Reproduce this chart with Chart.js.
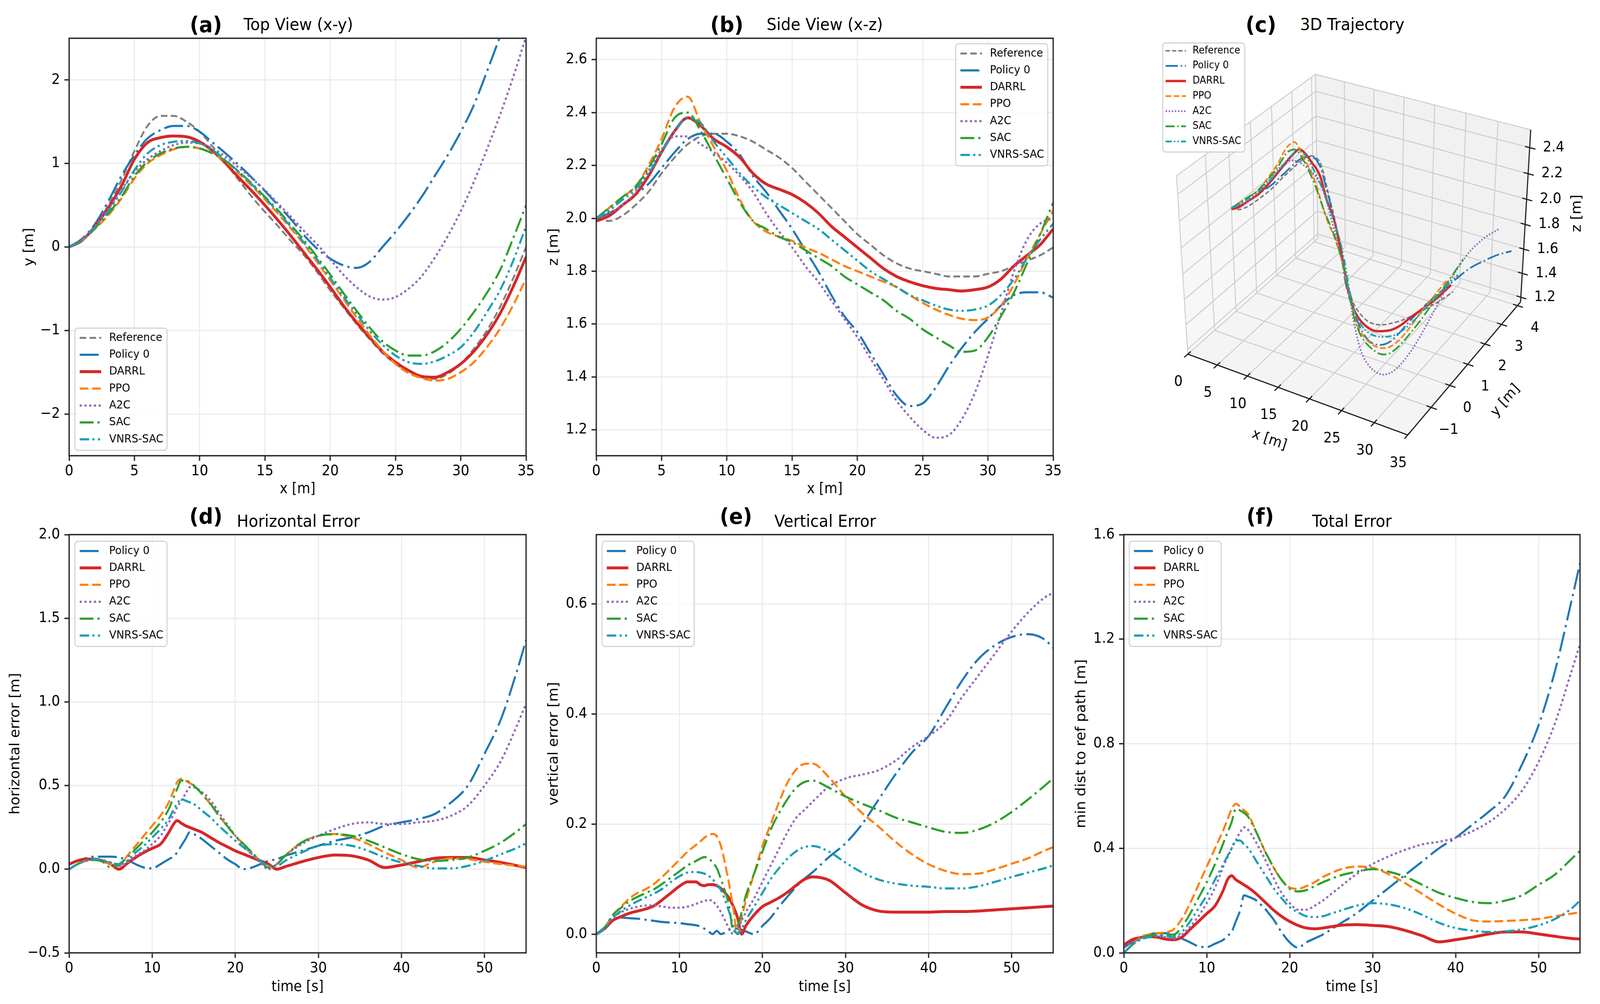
<!DOCTYPE html>
<html>
<head>
<meta charset="utf-8">
<script src="https://cdn.jsdelivr.net/npm/chart.js@4.4.1/dist/chart.umd.min.js"></script>
<style>
  html, body { margin: 0; padding: 0; background: #fff; overflow: hidden; }
  #page { position: relative; width: 4398px; height: 2571px; overflow: hidden; background: #fff; transform-origin: 0 0; }
  canvas { position: absolute; }
  .tag { position: absolute; font: bold 56px "DejaVu Sans"; transform: translate(-50%, -50%); white-space: nowrap; color: #000; }
  .ttl { position: absolute; font: 43px "DejaVu Sans"; transform: translate(-50%, -50%); white-space: nowrap; color: #000; }
</style>
</head>
<body>
<div id="page">
  <canvas id="chartA"></canvas>
  <canvas id="chartB"></canvas>
  <canvas id="chartC"></canvas>
  <canvas id="chartD"></canvas>
  <canvas id="chartE"></canvas>
  <canvas id="chartF"></canvas>

  <div class="tag" style="left:566px;top:62px">(a)</div>
  <div class="ttl" style="left:820px;top:62px">Top View (x-y)</div>
  <div class="tag" style="left:1998px;top:62px">(b)</div>
  <div class="ttl" style="left:2267px;top:62px">Side View (x-z)</div>
  <div class="tag" style="left:3466px;top:62px">(c)</div>
  <div class="ttl" style="left:3717px;top:62px">3D Trajectory</div>
  <div class="tag" style="left:566px;top:1321px">(d)</div>
  <div class="ttl" style="left:820px;top:1334px">Horizontal Error</div>
  <div class="tag" style="left:2023px;top:1321px">(e)</div>
  <div class="ttl" style="left:2268px;top:1334px">Vertical Error</div>
  <div class="tag" style="left:3464px;top:1321px">(f)</div>
  <div class="ttl" style="left:3716px;top:1334px">Total Error</div>
</div>
<script>
// ---- trajectory data: position along x [m] ----
const posX = [0,1,2,3,4,5,6,7,8,9,10,11,12,13,14,15,16,17,18,19,20,21,22,23,24,25,26,27,28,29,30,31,32,33,34,35];

// lateral position y [m]
const yRef     = [0,0.08,0.25,0.5,0.8,1.15,1.45,1.57,1.57,1.5, 1.38,1.2,1.0,0.8,0.6,0.42,0.25,0.07,-0.1,-0.3, -0.52,-0.72,-0.92,-1.1,-1.27,-1.4,-1.5,-1.56,-1.58,-1.52, -1.4,-1.22,-1.0,-0.72,-0.38,0.0];
const yPolicy0 = [0,0.1,0.28,0.55,0.85,1.1,1.3,1.4,1.45,1.45, 1.38,1.25,1.12,0.98,0.83,0.67,0.5,0.33,0.14,-0.02, -0.14,-0.22,-0.25,-0.18,0.0,0.18,0.38,0.6,0.85,1.1, 1.38,1.7,2.1,2.52,2.95,3.4];
const yDarrl   = [0,0.08,0.25,0.47,0.73,1.05,1.25,1.31,1.33,1.32, 1.26,1.15,1.0,0.83,0.67,0.5,0.32,0.13,-0.07,-0.27, -0.48,-0.7,-0.9,-1.08,-1.25,-1.38,-1.48,-1.55,-1.56,-1.5, -1.4,-1.25,-1.05,-0.8,-0.48,-0.12];
const yPpo     = [0,0.08,0.22,0.38,0.58,0.82,1.0,1.1,1.17,1.2, 1.18,1.12,1.02,0.88,0.73,0.57,0.4,0.22,0.03,-0.18, -0.4,-0.62,-0.84,-1.05,-1.24,-1.4,-1.51,-1.57,-1.6,-1.58, -1.5,-1.38,-1.2,-0.98,-0.7,-0.38];
const yA2c     = [0,0.09,0.25,0.45,0.68,0.9,1.05,1.15,1.22,1.25, 1.24,1.18,1.08,0.95,0.82,0.68,0.52,0.36,0.19,0.03, -0.15,-0.33,-0.48,-0.59,-0.63,-0.6,-0.5,-0.35,-0.13,0.13, 0.43,0.78,1.17,1.58,2.03,2.52];
const ySac     = [0,0.08,0.23,0.4,0.6,0.85,1.02,1.12,1.18,1.2, 1.18,1.12,1.03,0.9,0.76,0.6,0.44,0.26,0.08,-0.12, -0.33,-0.55,-0.76,-0.96,-1.13,-1.24,-1.3,-1.3,-1.25,-1.14, -0.98,-0.78,-0.55,-0.28,0.1,0.5];
const yVnrs    = [0,0.08,0.24,0.43,0.66,0.92,1.12,1.22,1.26,1.27, 1.24,1.16,1.04,0.9,0.75,0.59,0.42,0.24,0.05,-0.15, -0.37,-0.59,-0.8,-1.0,-1.17,-1.3,-1.38,-1.4,-1.37,-1.3, -1.2,-1.02,-0.78,-0.52,-0.17,0.25];

// height z [m]
const zRef     = [2.0,1.99,2.01,2.05,2.1,2.17,2.23,2.28,2.31,2.32, 2.32,2.31,2.29,2.26,2.23,2.19,2.14,2.09,2.04,1.99, 1.94,1.9,1.86,1.83,1.81,1.8,1.79,1.78,1.78,1.78, 1.79,1.8,1.82,1.84,1.86,1.89];
const zPolicy0 = [2.0,2.02,2.05,2.09,2.13,2.19,2.25,2.3,2.32,2.32, 2.29,2.24,2.16,2.1,2.03,1.96,1.88,1.8,1.71,1.63, 1.57,1.49,1.41,1.33,1.29,1.3,1.36,1.44,1.51,1.57, 1.62,1.67,1.71,1.72,1.72,1.7];
const zDarrl   = [1.99,2.01,2.05,2.09,2.16,2.25,2.33,2.38,2.35,2.3, 2.27,2.23,2.17,2.13,2.11,2.09,2.06,2.02,1.97,1.93, 1.89,1.85,1.81,1.78,1.76,1.745,1.735,1.73,1.725,1.73, 1.74,1.77,1.82,1.86,1.9,1.96];
const zPpo     = [2.0,2.04,2.08,2.12,2.2,2.3,2.42,2.46,2.36,2.27, 2.18,2.07,1.99,1.95,1.93,1.915,1.89,1.87,1.845,1.82, 1.8,1.78,1.76,1.74,1.71,1.68,1.655,1.635,1.62,1.615, 1.625,1.67,1.75,1.85,1.94,2.03];
const zA2c     = [2.0,2.02,2.05,2.1,2.18,2.26,2.31,2.31,2.28,2.25, 2.21,2.16,2.1,2.02,1.95,1.89,1.82,1.76,1.69,1.62, 1.55,1.47,1.39,1.31,1.25,1.2,1.17,1.18,1.24,1.34, 1.48,1.64,1.8,1.92,1.98,2.0];
const zSac     = [2.0,2.04,2.08,2.12,2.19,2.28,2.38,2.4,2.33,2.24, 2.15,2.06,1.99,1.96,1.93,1.91,1.88,1.85,1.82,1.78, 1.75,1.72,1.69,1.65,1.62,1.58,1.55,1.52,1.495,1.5, 1.55,1.63,1.72,1.83,1.94,2.06];
const zVnrs    = [2.0,2.03,2.07,2.11,2.17,2.25,2.33,2.38,2.36,2.29, 2.23,2.17,2.12,2.08,2.05,2.02,1.99,1.96,1.92,1.88, 1.84,1.8,1.77,1.74,1.71,1.69,1.67,1.655,1.65,1.655, 1.67,1.71,1.77,1.85,1.92,1.98];

// ---- tracking errors vs time [s] ----
const timeS = [0,1,2,3,4,5,6,7,8,9,10,11,12,12.5,13,13.5,14,14.5,15,16,16.5,17,17.5,18,19,20,21,22,23,24,25,26,28,30,32,34,36,38,40,42,44,46,48,50,52,54,55];

// horizontal error [m]
const hPolicy0 = [0.03,0.05,0.065,0.075,0.075,0.075,0.07,0.055,0.03,0.01,0.005,0.03,0.06, 0.075,0.1,0.14,0.18,0.22,0.21, 0.18,0.16,0.14,0.12,0.1, 0.06,0.03,0.0,0.01,0.03,0.05,0.06,0.08, 0.11,0.14,0.17,0.19,0.22,0.26,0.28,0.3,0.33,0.4,0.5,0.69,0.9,1.2, 1.37];
const hDarrl   = [0.03,0.05,0.06,0.06,0.05,0.03,0.0,0.035,0.07,0.1,0.125,0.15,0.22, 0.264,0.29,0.275,0.26,0.25,0.24, 0.22,0.205,0.19,0.175,0.16, 0.135,0.11,0.09,0.07,0.05,0.03,0.0,0.015, 0.045,0.07,0.085,0.08,0.055,0.01,0.025,0.045,0.065,0.07,0.07,0.055,0.04,0.02, 0.01];
const hPpo     = [0.0,0.03,0.05,0.06,0.05,0.03,0.02,0.08,0.14,0.2,0.26,0.32,0.4, 0.46,0.52,0.54,0.53,0.515,0.5, 0.45,0.42,0.39,0.355,0.32, 0.26,0.2,0.15,0.1,0.05,0.01,0.03,0.08, 0.16,0.2,0.21,0.19,0.15,0.1,0.055,0.01,0.045,0.065,0.06,0.045,0.03,0.02, 0.015];
const hA2c     = [0.0,0.03,0.05,0.055,0.05,0.04,0.02,0.04,0.08,0.11,0.15,0.2,0.28, 0.32,0.37,0.41,0.45,0.49,0.49, 0.46,0.44,0.41,0.38,0.34, 0.27,0.2,0.14,0.09,0.04,0.0,0.03,0.08, 0.15,0.2,0.24,0.27,0.28,0.27,0.27,0.28,0.29,0.32,0.38,0.5,0.65,0.87, 0.99];
const hSac     = [0.0,0.03,0.05,0.055,0.045,0.01,0.03,0.07,0.12,0.17,0.22,0.28,0.36, 0.42,0.48,0.53,0.53,0.52,0.5, 0.45,0.42,0.39,0.36,0.32, 0.26,0.2,0.15,0.1,0.05,0.01,0.03,0.08, 0.16,0.2,0.21,0.2,0.17,0.13,0.09,0.06,0.05,0.055,0.07,0.11,0.16,0.23, 0.27];
const hVnrs    = [0.0,0.03,0.05,0.06,0.055,0.04,0.03,0.05,0.1,0.14,0.19,0.24,0.3, 0.35,0.39,0.42,0.41,0.4,0.39, 0.35,0.33,0.31,0.285,0.26, 0.215,0.17,0.13,0.09,0.05,0.02,0.02,0.05, 0.1,0.14,0.15,0.14,0.11,0.07,0.04,0.02,0.005,0.005,0.02,0.05,0.09,0.13, 0.155];

// vertical error [m]
const vPolicy0 = [0.0,0.012,0.025,0.03,0.029,0.028,0.026,0.024,0.022,0.021,0.02,0.018,0.016, 0.014,0.01,0.005,0.0,0.006,0.0, 0.008,0.01,0.01,0.008,0.005, 0.0,0.015,0.03,0.05,0.068,0.085,0.1,0.112, 0.14,0.165,0.2,0.245,0.29,0.33,0.36,0.41,0.46,0.5,0.525,0.54,0.545,0.535, 0.52];
const vDarrl   = [0.0,0.01,0.025,0.032,0.038,0.042,0.046,0.052,0.063,0.075,0.087,0.095,0.095, 0.09,0.088,0.09,0.09,0.088,0.083, 0.065,0.05,0.03,0.0,0.015, 0.035,0.05,0.058,0.066,0.076,0.088,0.099,0.104, 0.098,0.075,0.053,0.042,0.04,0.04,0.04,0.041,0.041,0.042,0.044,0.046,0.048,0.05, 0.051];
const vPpo     = [0.0,0.012,0.035,0.05,0.065,0.075,0.082,0.092,0.105,0.12,0.135,0.15,0.162, 0.168,0.175,0.18,0.182,0.178,0.16, 0.09,0.045,0.0,0.03,0.06, 0.11,0.16,0.2,0.24,0.275,0.298,0.309,0.31, 0.285,0.25,0.22,0.195,0.168,0.145,0.127,0.115,0.109,0.11,0.118,0.128,0.138,0.152, 0.158];
const vA2c     = [0.0,0.012,0.03,0.04,0.046,0.05,0.052,0.052,0.05,0.048,0.048,0.05,0.055, 0.058,0.06,0.062,0.06,0.052,0.04, 0.01,0.0,0.01,0.025,0.04, 0.065,0.095,0.125,0.155,0.185,0.21,0.225,0.24, 0.268,0.283,0.29,0.298,0.315,0.34,0.36,0.385,0.43,0.47,0.51,0.55,0.585,0.612, 0.62];
const vSac     = [0.0,0.012,0.035,0.048,0.06,0.068,0.075,0.082,0.092,0.103,0.114,0.125,0.133, 0.137,0.14,0.138,0.13,0.12,0.1, 0.05,0.005,0.015,0.04,0.07, 0.11,0.15,0.19,0.22,0.245,0.265,0.276,0.279, 0.266,0.25,0.237,0.225,0.212,0.203,0.194,0.186,0.184,0.19,0.203,0.222,0.245,0.27, 0.283];
const vVnrs    = [0.0,0.01,0.03,0.042,0.052,0.06,0.067,0.074,0.083,0.095,0.105,0.112,0.113, 0.112,0.11,0.106,0.1,0.09,0.08, 0.04,0.015,0.0,0.01,0.025, 0.05,0.075,0.1,0.12,0.137,0.15,0.158,0.16, 0.15,0.13,0.112,0.099,0.092,0.088,0.086,0.083,0.083,0.087,0.095,0.104,0.112,0.12, 0.125];

// min distance to reference path [m]
const tPolicy0 = [0.02,0.04,0.06,0.07,0.075,0.075,0.068,0.055,0.04,0.025,0.022,0.035,0.05, 0.065,0.08,0.12,0.16,0.22,0.215, 0.2,0.185,0.17,0.15,0.13, 0.08,0.04,0.02,0.04,0.055,0.07,0.09,0.11, 0.15,0.2,0.25,0.3,0.35,0.4,0.44,0.49,0.54,0.6,0.72,0.87,1.08,1.35, 1.49];
const tDarrl   = [0.03,0.05,0.058,0.062,0.06,0.053,0.05,0.06,0.09,0.12,0.15,0.18,0.24, 0.28,0.295,0.28,0.27,0.26,0.25, 0.225,0.21,0.195,0.18,0.165, 0.14,0.12,0.105,0.095,0.092,0.095,0.1,0.105, 0.108,0.105,0.1,0.085,0.065,0.042,0.05,0.06,0.072,0.08,0.08,0.072,0.063,0.055, 0.053];
const tPpo     = [0.0,0.03,0.06,0.07,0.075,0.078,0.09,0.13,0.19,0.26,0.33,0.4,0.47, 0.51,0.55,0.57,0.56,0.545,0.53, 0.46,0.425,0.39,0.36,0.33, 0.28,0.25,0.245,0.255,0.27,0.29,0.305,0.318, 0.33,0.325,0.3,0.265,0.225,0.185,0.15,0.125,0.12,0.122,0.125,0.13,0.14,0.15, 0.155];
const tA2c     = [0.02,0.04,0.055,0.065,0.065,0.06,0.055,0.07,0.1,0.14,0.19,0.25,0.33, 0.365,0.4,0.43,0.46,0.48,0.47, 0.42,0.39,0.36,0.325,0.29, 0.23,0.19,0.165,0.165,0.18,0.2,0.225,0.25, 0.3,0.34,0.37,0.395,0.415,0.425,0.44,0.465,0.5,0.55,0.62,0.73,0.88,1.08, 1.18];
const tSac     = [0.0,0.03,0.055,0.065,0.07,0.07,0.07,0.1,0.15,0.21,0.27,0.34,0.42, 0.46,0.5,0.55,0.545,0.535,0.52, 0.46,0.425,0.39,0.36,0.33, 0.28,0.245,0.235,0.24,0.255,0.27,0.283,0.295, 0.31,0.32,0.31,0.29,0.26,0.23,0.21,0.195,0.19,0.2,0.22,0.26,0.3,0.36, 0.39];
const tVnrs    = [0.0,0.03,0.05,0.06,0.065,0.065,0.06,0.08,0.12,0.17,0.22,0.28,0.34, 0.37,0.4,0.43,0.43,0.415,0.4, 0.35,0.325,0.3,0.275,0.25, 0.21,0.175,0.155,0.14,0.137,0.14,0.15,0.16, 0.18,0.19,0.185,0.17,0.145,0.115,0.095,0.085,0.08,0.082,0.09,0.105,0.13,0.17, 0.2];

// ---- tick labels ----
const ticksPosX  = [0,5,10,15,20,25,30,35];
const ticksPosY  = [-2,-1,0,1,2];
const ticksPosZ  = [1.2,1.4,1.6,1.8,2.0,2.2,2.4,2.6];
const ticksTime  = [0,10,20,30,40,50];
const ticksHErr  = [-0.5,0.0,0.5,1.0,1.5,2.0];
const ticksVErr  = [0.0,0.2,0.4,0.6];
const ticksTErr  = [0.0,0.4,0.8,1.2,1.6];
const ticks3dX   = [0,5,10,15,20,25,30,35];
const ticks3dY   = [-1,0,1,2,3,4];
const ticks3dZ   = [1.2,1.4,1.6,1.8,2.0,2.2,2.4];

// ---- styling ----
const FONT = '"DejaVu Sans", sans-serif';
Chart.defaults.font.family = FONT;

const seriesStyle = {
    'Reference': { color: '#7f7f7f', dash: [18, 9], width: 5 },
    'Policy 0':  { color: '#1f77b4', dash: [52, 12, 6, 12], width: 5.5 },
    'DARRL':     { color: '#d62728', dash: [], width: 7.5 },
    'PPO':       { color: '#ff7f0e', dash: [24, 10], width: 5.5 },
    'A2C':       { color: '#9467bd', dash: [6, 7], width: 5.5 },
    'SAC':       { color: '#2ca02c', dash: [38, 11, 6, 11], width: 5.5 },
    'VNRS-SAC':  { color: '#1a9eb3', dash: [26, 9, 6, 9, 6, 9], width: 5.5 }
};

function fmtTick(v, decimals) {
    return Number(v).toFixed(decimals).replace('-', '\u2212');
}

// k scales the dash pattern, kw the line width
function lineSet(name, xs, ys, k, kw, idx) {
    const st = seriesStyle[name];
    return {
        label: name,
        data: xs.map((x, i) => ({ x: x, y: ys[i] })),
        borderColor: st.color,
        backgroundColor: st.color,
        borderWidth: st.width * kw,
        borderDash: st.dash.map(d => d * k),
        borderJoinStyle: 'round',
        pointRadius: 0,
        fill: false,
        order: 20 - idx
    };
}

// legend box drawn inside the plot, plus the plot frame
const legendBox = {
    id: 'legendBox',
    afterDatasetsDraw(chart, args, o) {
        const ctx = chart.ctx;
        const area = chart.chartArea;
        const sets = chart.data.datasets;
        ctx.save();
        if (o.frame) {
            ctx.setLineDash([]);
            ctx.lineWidth = 3.5;
            ctx.strokeStyle = '#262626';
            ctx.strokeRect(area.left, area.top, area.right - area.left, area.bottom - area.top);
        }
        ctx.font = o.fontSize + 'px ' + FONT;
        const textW = Math.max(...sets.map(s => ctx.measureText(s.label).width));
        const w = o.padLeft + o.sample + o.gap + textW + o.padRight;
        const h = o.padTop + o.row * (sets.length - 1) + o.padBottom;
        let x, y;
        if (o.at) {
            x = o.at[0]; y = o.at[1];
        } else {
            x = o.corner[1] === 'l' ? area.left + o.dx : area.right - o.dx - w;
            y = o.corner[0] === 't' ? area.top + o.dy : area.bottom - o.dy - h;
        }
        ctx.beginPath();
        ctx.roundRect(x, y, w, h, 8);
        ctx.fillStyle = 'rgba(255,255,255,0.8)';
        ctx.fill();
        ctx.lineWidth = 2.5;
        ctx.strokeStyle = '#cccccc';
        ctx.stroke();
        sets.forEach((s, i) => {
            const cy = y + o.padTop + i * o.row;
            ctx.beginPath();
            ctx.setLineDash(s.borderDash || []);
            ctx.lineCap = 'butt';
            ctx.lineWidth = s.borderWidth;
            ctx.strokeStyle = s.borderColor;
            ctx.moveTo(x + o.padLeft, cy);
            ctx.lineTo(x + o.padLeft + o.sample, cy);
            ctx.stroke();
            ctx.setLineDash([]);
            ctx.fillStyle = '#000';
            ctx.textAlign = 'left';
            ctx.textBaseline = 'middle';
            ctx.fillText(s.label, x + o.padLeft + o.sample + o.gap, cy);
        });
        ctx.restore();
    }
};

const legend2d = { fontSize: 29, padLeft: 13, sample: 59, gap: 22, padRight: 10, padTop: 25, row: 43.3, padBottom: 28 };

function axisOpts(which, a, size) {
    return {
        type: 'linear',
        min: a.min,
        max: a.max,
        afterBuildTicks: s => { s.ticks = a.ticks.map(v => ({ value: v })); },
        afterFit: s => { if (which === 'x') s.height = size; else s.width = size; },
        ticks: {
            autoSkip: false, maxRotation: 0, minRotation: 0,
            padding: which === 'x' ? 5 : 12,
            color: '#000',
            font: { family: FONT, size: 37 },
            callback: v => fmtTick(v, a.decimals)
        },
        grid: { color: '#ebebeb', lineWidth: 3, drawTicks: true, tickLength: 13, tickWidth: 3.5, tickColor: '#262626' },
        border: { display: false },
        title: { display: true, text: a.title, color: '#000', font: { family: FONT, size: 37 }, padding: a.pad }
    };
}

function placeCanvas(id, box) {
    const c = document.getElementById(id);
    c.width = box.w; c.height = box.h;
    c.style.left = box.x + 'px'; c.style.top = box.y + 'px';
    c.style.width = box.w + 'px'; c.style.height = box.h + 'px';
    return c;
}

// box = canvas on the page, plot = [left, top, right, bottom] of the axes on the page
function makeChart(id, box, plot, cfg) {
    const canvas = placeCanvas(id, box);
    const yW = plot[0] - box.x;
    const padTop = plot[1] - box.y;
    const padRight = box.x + box.w - plot[2];
    const xH = box.y + box.h - plot[3];
    return new Chart(canvas, {
        type: 'line',
        data: { datasets: cfg.datasets },
        plugins: [legendBox],
        options: {
            responsive: false,
            animation: false,
            devicePixelRatio: 1,
            layout: { padding: { top: padTop, right: padRight, left: 0, bottom: 0 } },
            elements: { line: { cubicInterpolationMode: 'monotone' } },
            plugins: {
                legend: { display: false },
                tooltip: { enabled: false },
                legendBox: Object.assign({ frame: true }, legend2d, cfg.legend)
            },
            scales: {
                x: axisOpts('x', cfg.x, xH),
                y: axisOpts('y', cfg.y, yW)
            }
        }
    });
}

const names = ['Reference', 'Policy 0', 'DARRL', 'PPO', 'A2C', 'SAC', 'VNRS-SAC'];
const ySeries = [yRef, yPolicy0, yDarrl, yPpo, yA2c, ySac, yVnrs];
const zSeries = [zRef, zPolicy0, zDarrl, zPpo, zA2c, zSac, zVnrs];
const errNames = names.slice(1);
const hSeries = [hPolicy0, hDarrl, hPpo, hA2c, hSac, hVnrs];
const vSeries = [vPolicy0, vDarrl, vPpo, vA2c, vSac, vVnrs];
const tSeries = [tPolicy0, tDarrl, tPpo, tA2c, tSac, tVnrs];

const row1 = { y: 60, h: 1220, top: 98, bottom: 1167, xPad: { top: 0, bottom: 4 } };
const row2 = { y: 1330, h: 1230, top: 1369, bottom: 2440, xPad: { top: 0, bottom: 9 } };
const col1 = { x: 0, w: 1490, left: 190, right: 1446 };
const col2 = { x: 1470, w: 1460, left: 1639, right: 2895 };
const col3 = { x: 2930, w: 1460, left: 3089, right: 4343 };

function cell(c, r) {
    return { box: { x: c.x, y: r.y, w: c.w, h: r.h }, plot: [c.left, r.top, c.right, r.bottom] };
}

let g = cell(col1, row1);
makeChart('chartA', g.box, g.plot, {
    datasets: names.map((n, i) => lineSet(n, posX, ySeries[i], 1, 1, i)),
    x: { min: 0, max: 35, ticks: ticksPosX, decimals: 0, title: 'x [m]', pad: row1.xPad },
    y: { min: -2.5, max: 2.5, ticks: ticksPosY, decimals: 0, title: 'y [m]', pad: { top: 59, bottom: 0 } },
    legend: { corner: 'bl', dx: 16, dy: 14 }
});

g = cell(col2, row1);
makeChart('chartB', g.box, g.plot, {
    datasets: names.map((n, i) => lineSet(n, posX, zSeries[i], 1, 1, i)),
    x: { min: 0, max: 35, ticks: ticksPosX, decimals: 0, title: 'x [m]', pad: row1.xPad },
    y: { min: 1.102, max: 2.681, ticks: ticksPosZ, decimals: 1, title: 'z [m]', pad: { top: 31, bottom: 0 } },
    legend: { corner: 'tr', dx: 15, dy: 14 }
});

g = cell(col1, row2);
makeChart('chartD', g.box, g.plot, {
    datasets: errNames.map((n, i) => lineSet(n, timeS, hSeries[i], 1, 1, i + 1)),
    x: { min: 0, max: 55, ticks: ticksTime, decimals: 0, title: 'time [s]', pad: row2.xPad },
    y: { min: -0.5, max: 2.0, ticks: ticksHErr, decimals: 1, title: 'horizontal error [m]', pad: { top: 21, bottom: 0 } },
    legend: { corner: 'tl', dx: 16, dy: 17 }
});

g = cell(col2, row2);
makeChart('chartE', g.box, g.plot, {
    datasets: errNames.map((n, i) => lineSet(n, timeS, vSeries[i], 1, 1, i + 1)),
    x: { min: 0, max: 55, ticks: ticksTime, decimals: 0, title: 'time [s]', pad: row2.xPad },
    y: { min: -0.034, max: 0.726, ticks: ticksVErr, decimals: 1, title: 'vertical error [m]', pad: { top: 31, bottom: 0 } },
    legend: { corner: 'tl', dx: 16, dy: 17 }
});

g = cell(col3, row2);
makeChart('chartF', g.box, g.plot, {
    datasets: errNames.map((n, i) => lineSet(n, timeS, tSeries[i], 1, 1, i + 1)),
    x: { min: 0, max: 55, ticks: ticksTime, decimals: 0, title: 'time [s]', pad: row2.xPad },
    y: { min: 0, max: 1.6, ticks: ticksTErr, decimals: 1, title: 'min dist to ref path [m]', pad: { top: 21, bottom: 0 } },
    legend: { corner: 'tl', dx: 15, dy: 17 }
});

// ---- 3D panel: perspective projection onto page pixels ----
const box3d = { x: [0, 35], y: [-2.2, 4.2], z: [1.16, 2.535], aspect: [1, 1, 0.75] };
const view3d = { elev: 30, azim: -60, dist: 6, scale: 690, cx: 3734, cy: 621 };

function project(x, y, z) {
    const u = ((x - box3d.x[0]) / (box3d.x[1] - box3d.x[0]) - 0.5) * box3d.aspect[0];
    const v = ((y - box3d.y[0]) / (box3d.y[1] - box3d.y[0]) - 0.5) * box3d.aspect[1];
    const w = ((z - box3d.z[0]) / (box3d.z[1] - box3d.z[0]) - 0.5) * box3d.aspect[2];
    const el = view3d.elev * Math.PI / 180;
    const az = view3d.azim * Math.PI / 180;
    const sx = -Math.sin(az) * u + Math.cos(az) * v;
    const sy = -Math.sin(el) * Math.cos(az) * u - Math.sin(el) * Math.sin(az) * v + Math.cos(el) * w;
    const d = Math.cos(el) * Math.cos(az) * u + Math.cos(el) * Math.sin(az) * v + Math.sin(el) * w;
    const f = view3d.dist / (view3d.dist - d);
    return { x: view3d.cx + view3d.scale * sx * f, y: view3d.cy - view3d.scale * sy * f };
}

const pane3d = {
    id: 'pane3d',
    beforeDatasetsDraw(chart) {
        const ctx = chart.ctx;
        const sx = chart.scales.x, sy = chart.scales.y;
        const P = (x, y, z) => { const p = project(x, y, z); return [sx.getPixelForValue(p.x), sy.getPixelForValue(p.y)]; };
        const [x0, x1] = box3d.x, [y0, y1] = box3d.y, [z0, z1] = box3d.z;
        const rx = x1 - x0, ry = y1 - y0;
        ctx.save();
        const poly = (pts, fill) => {
            ctx.beginPath();
            pts.forEach((p, i) => { const q = P(...p); if (i) ctx.lineTo(q[0], q[1]); else ctx.moveTo(q[0], q[1]); });
            ctx.closePath();
            ctx.fillStyle = fill;
            ctx.fill();
        };
        poly([[x0, y0, z0], [x0, y1, z0], [x0, y1, z1], [x0, y0, z1]], '#f7f7f7');
        poly([[x0, y1, z0], [x1, y1, z0], [x1, y1, z1], [x0, y1, z1]], '#f1f1f1');
        poly([[x0, y0, z0], [x1, y0, z0], [x1, y1, z0], [x0, y1, z0]], '#f4f4f4');
        const seg = (a, b, color, lw) => {
            const p = P(...a), q = P(...b);
            ctx.beginPath();
            ctx.moveTo(p[0], p[1]);
            ctx.lineTo(q[0], q[1]);
            ctx.strokeStyle = color;
            ctx.lineWidth = lw;
            ctx.stroke();
        };
        const gc = '#cccccc', gw = 2.5;
        ticks3dX.forEach(t => { seg([t, y0, z0], [t, y1, z0], gc, gw); seg([t, y1, z0], [t, y1, z1], gc, gw); });
        ticks3dY.forEach(t => { seg([x0, t, z0], [x1, t, z0], gc, gw); seg([x0, t, z0], [x0, t, z1], gc, gw); });
        ticks3dZ.forEach(t => { seg([x0, y0, t], [x0, y1, t], gc, gw); seg([x0, y1, t], [x1, y1, t], gc, gw); });
        // pane borders
        seg([x0, y0, z1], [x0, y1, z1], gc, gw); seg([x0, y1, z1], [x1, y1, z1], gc, gw);
        seg([x0, y0, z0], [x0, y0, z1], gc, gw); seg([x0, y1, z0], [x0, y1, z1], gc, gw);
        // axis lines
        const ac = '#1a1a1a', aw = 3;
        seg([x0, y0, z0], [x1, y0, z0], ac, aw);
        seg([x1, y0, z0], [x1, y1, z0], ac, aw);
        seg([x1, y1, z0], [x1, y1, z1], ac, aw);
        ctx.fillStyle = '#000';
        ctx.font = '37px ' + FONT;
        ctx.textAlign = 'center';
        ctx.textBaseline = 'middle';
        ticks3dX.forEach(t => {
            seg([t, y0 + 0.02 * ry, z0], [t, y0 - 0.025 * ry, z0], ac, aw);
            const p = P(t, y0, z0);
            ctx.fillText(fmtTick(t, 0), p[0] - 26, p[1] + 72);
        });
        ticks3dY.forEach(t => {
            seg([x1 - 0.02 * rx, t, z0], [x1 + 0.025 * rx, t, z0], ac, aw);
            const p = P(x1, t, z0);
            ctx.fillText(fmtTick(t, 0), p[0] + 48, p[1] + 58);
        });
        ticks3dZ.forEach(t => {
            seg([x1 - 0.02 * rx, y1, t], [x1 + 0.025 * rx, y1, t], ac, aw);
            const p = P(x1, y1, t);
            ctx.fillText(fmtTick(t, 1), p[0] + 66, p[1]);
        });
        const label = (text, at, dx, dy, angle) => {
            ctx.save();
            ctx.translate(at[0] + dx, at[1] + dy);
            ctx.rotate(angle);
            ctx.fillText(text, 0, 0);
            ctx.restore();
        };
        const a0 = P(x0, y0, z0), a1 = P(x1, y0, z0), a2 = P(x1, y1, z0);
        label('x [m]', P((x0 + x1) / 2, y0, z0), -67, 120, Math.atan2(a1[1] - a0[1], a1[0] - a0[0]));
        label('y [m]', P(x1, (y0 + y1) / 2, z0), 104, 93, Math.atan2(a2[1] - a1[1], a2[0] - a1[0]));
        label('z [m]', P(x1, y1, (z0 + z1) / 2), 142, -13, -Math.PI / 2);
        ctx.restore();
    }
};

const box3dCanvas = { x: 2940, y: 100, w: 1458, h: 1180 };
const canvas3d = placeCanvas('chartC', box3dCanvas);
new Chart(canvas3d, {
    type: 'scatter',
    data: {
        datasets: names.map((n, i) => {
            const ds = lineSet(n, posX, ySeries[i], 0.65, 0.8, i);
            ds.data = posX.map((x, j) => project(x, ySeries[i][j], zSeries[i][j]));
            ds.showLine = true;
            ds.tension = 0.3;
            ds.clip = false;
            return ds;
        })
    },
    plugins: [pane3d, legendBox],
    options: {
        responsive: false,
        animation: false,
        devicePixelRatio: 1,
        layout: { padding: 0 },
        scales: {
            x: { type: 'linear', display: false, min: box3dCanvas.x, max: box3dCanvas.x + box3dCanvas.w },
            y: { type: 'linear', display: false, min: box3dCanvas.y, max: box3dCanvas.y + box3dCanvas.h, reverse: true }
        },
        plugins: {
            legend: { display: false },
            tooltip: { enabled: false },
            legendBox: { frame: false, at: [3196 - box3dCanvas.x, 110 - box3dCanvas.y], fontSize: 26, padLeft: 8, sample: 56, gap: 18, padRight: 10, padTop: 20, row: 38.7, padBottom: 27 }
        }
    }
});

// the figure is laid out at 4398x2571; stretch it onto the actual viewport
const page = document.getElementById('page');
const vw = window.innerWidth, vh = window.innerHeight;
if (vw > 0 && vh > 0 && (vw !== 4398 || vh !== 2571)) {
    page.style.transform = 'scale(' + (vw / 4398) + ',' + (vh / 2571) + ')';
}
</script>
</body>
</html>
